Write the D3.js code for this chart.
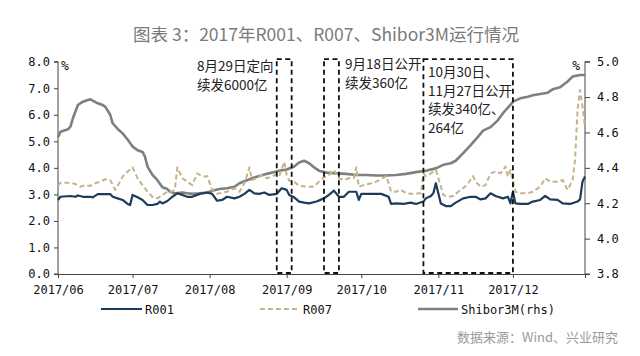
<!DOCTYPE html>
<html><head><meta charset="utf-8">
<script src="https://cdn.jsdelivr.net/npm/d3@7"></script>
<style>
html,body{margin:0;padding:0;background:#fff;}
svg{display:block;}
</style></head>
<body>
<svg id="chart" width="640" height="356"></svg>
<script>
// ---------- DATA ----------
const titleText = "图表 3：2017年R001、R007、Shibor3M运行情况";
const sourceText = "数据来源：Wind、兴业研究";
const monthTicks = ["2017/06/01","2017/07/01","2017/08/01","2017/09/01","2017/10/01","2017/11/01","2017/12/01"];
const leftTicks = [0,1,2,3,4,5,6,7,8];
const rightTicks = [3.8,4.0,4.2,4.4,4.6,4.8,5.0];
const seriesNames = ["R001","R007","Shibor3M(rhs)"];

const r001 = [
["06/01",2.79],["06/02",2.91],["06/06",2.94],["06/08",2.91],["06/09",2.96],["06/11",2.91],["06/14",2.91],["06/15",2.89],
["06/17",3.01],["06/19",3.01],["06/22",3.01],["06/23",2.91],["06/25",2.85],["06/27",2.79],["06/29",2.64],["06/30",2.60],
["07/01",2.98],["07/03",2.89],["07/05",2.79],["07/07",2.60],["07/09",2.60],["07/11",2.64],["07/12",2.73],["07/13",2.66],
["07/15",2.75],["07/17",2.91],["07/19",3.04],["07/21",2.98],["07/23",2.91],["07/25",2.91],["07/28",3.02],["07/31",3.07],
["08/02",3.02],["08/04",2.76],["08/06",2.79],["08/08",2.91],["08/11",2.85],["08/13",2.91],["08/15",3.02],["08/17",3.17],
["08/19",3.04],["08/21",3.02],["08/23",3.07],["08/25",2.98],["08/28",3.02],["08/30",3.23],["09/01",3.17],["09/02",2.98],
["09/04",2.89],["09/06",2.73],["09/08",2.69],["09/10",2.66],["09/13",2.73],["09/16",2.85],["09/18",2.98],["09/20",3.14],
["09/22",2.91],["09/24",2.91],["09/26",3.10],["09/28",3.10],["09/29",3.10],["09/30",2.79],["10/01",3.02],["10/05",3.02],
["10/09",3.02],["10/12",2.91],["10/13",2.64],["10/15",2.66],["10/18",2.64],["10/21",2.69],["10/23",2.64],["10/26",2.73],
["10/27",2.85],["10/29",2.94],["10/30",3.04],["10/31",3.42],["11/01",3.04],["11/02",2.66],["11/04",2.56],["11/06",2.56],
["11/08",2.69],["11/11",2.85],["11/14",2.91],["11/16",2.91],["11/18",2.81],["11/20",2.85],["11/22",3.04],["11/24",2.94],
["11/27",2.85],["11/29",2.91],["11/30",2.66],["12/01",3.10],["12/02",2.66],["12/04",2.64],["12/07",2.64],["12/09",2.73],
["12/12",2.79],["12/14",2.94],["12/16",2.81],["12/19",2.79],["12/21",2.66],["12/24",2.64],["12/27",2.73],["12/28",2.81],
["12/29",3.48],["12/30",3.67]
];

const r007 = [
["06/01",3.32],["06/02",3.44],["06/06",3.44],["06/08",3.39],["06/10",3.29],["06/12",3.35],["06/14",3.32],["06/16",3.42],
["06/18",3.48],["06/20",3.57],["06/22",3.54],["06/24",3.17],["06/25",3.32],["06/27",3.67],["06/29",3.86],["07/01",4.02],
["07/03",3.61],["07/05",3.35],["07/07",3.10],["07/09",2.91],["07/11",2.85],["07/13",2.98],["07/15",3.10],["07/16",3.07],
["07/18",3.17],["07/19",4.02],["07/21",3.61],["07/23",3.48],["07/25",3.35],["07/27",3.79],["07/28",3.73],["07/30",3.67],
["07/31",3.69],["08/02",3.17],["08/04",3.02],["08/06",3.07],["08/08",3.10],["08/11",3.23],["08/13",3.10],["08/15",3.42],
["08/17",4.02],["08/18",3.54],["08/20",3.61],["08/22",3.73],["08/24",3.61],["08/26",3.67],["08/28",3.77],["08/29",3.69],
["08/31",4.23],["09/01",3.73],["09/02",3.52],["09/04",3.48],["09/06",3.32],["09/09",3.29],["09/12",3.29],["09/14",3.48],
["09/16",3.64],["09/18",3.73],["09/20",3.92],["09/22",3.61],["09/24",3.54],["09/26",3.61],["09/28",3.61],["09/29",4.02],
["09/30",3.29],["10/02",3.35],["10/05",3.42],["10/07",3.48],["10/09",3.57],["10/11",3.69],["10/12",3.42],["10/13",3.10],
["10/15",3.10],["10/17",3.17],["10/19",3.04],["10/21",3.02],["10/25",3.04],["10/26",3.79],["10/27",3.69],["10/29",3.79],
["10/31",3.92],["11/01",3.61],["11/03",2.98],["11/05",2.91],["11/07",2.94],["11/09",3.10],["11/11",3.23],["11/13",3.42],
["11/15",3.69],["11/16",3.48],["11/18",3.29],["11/20",3.35],["11/22",3.79],["11/24",3.86],["11/26",3.79],["11/28",4.05],
["11/29",3.67],["11/30",3.92],["12/02",3.10],["12/04",3.04],["12/07",3.04],["12/09",3.10],["12/12",3.29],["12/14",3.61],
["12/16",3.48],["12/19",3.48],["12/21",3.54],["12/23",3.17],["12/25",3.54],["12/26",4.30],["12/27",6.18],["12/28",6.93],
["12/29",6.30],["12/30",5.55]
];

const shibor3m = [
["06/01",4.573],["06/02",4.604],["06/05",4.618],["06/06",4.633],["06/07",4.680],["06/09",4.755],["06/11",4.774],["06/13",4.784],
["06/14",4.787],["06/15",4.780],["06/17",4.765],["06/19",4.755],["06/20",4.746],["06/22",4.700],["06/23",4.652],["06/25",4.620],
["06/27",4.595],["06/29",4.560],["07/01",4.520],["07/03",4.500],["07/05",4.490],["07/06",4.463],["07/07",4.407],["07/09",4.360],
["07/11",4.330],["07/13",4.290],["07/15",4.280],["07/16",4.265],["07/18",4.256],["07/21",4.260],["07/23",4.256],["07/25",4.253],
["07/28",4.256],["07/31",4.260],["08/02",4.270],["08/05",4.280],["08/08",4.285],["08/11",4.293],["08/13",4.313],["08/16",4.330],
["08/19",4.346],["08/21",4.354],["08/24",4.366],["08/27",4.376],["08/29",4.384],["09/01",4.391],["09/04",4.408],["09/06",4.430],
["09/08",4.440],["09/10",4.426],["09/12",4.403],["09/14",4.384],["09/17",4.373],["09/21",4.369],["09/25",4.366],["09/29",4.360],
["10/03",4.360],["10/07",4.357],["10/11",4.357],["10/15",4.360],["10/19",4.366],["10/23",4.376],["10/27",4.384],["10/31",4.397],
["11/03",4.417],["11/06",4.426],["11/08",4.440],["11/11",4.483],["11/14",4.529],["11/17",4.577],["11/19",4.610],["11/22",4.630],
["11/25",4.670],["11/27",4.709],["11/30",4.756],["12/01",4.774],["12/04",4.793],["12/07",4.802],["12/09",4.810],["12/12",4.817],
["12/15",4.825],["12/17",4.844],["12/20",4.856],["12/23",4.888],["12/25",4.916],["12/28",4.925],["12/30",4.925]
];

// annotation windows (dates) and texts
const boxRanges = [["08/28","09/03"],["09/16","09/22"],["10/26","12/01"]];
const boxTexts = [
  ["8月29日定向","续发6000亿"],
  ["9月18日公开","续发360亿"],
  ["10月30日、","11月27日公开","续发340亿、","264亿"]
];

// ---------- CHART ----------
const parse = s => d3.timeParse("%Y/%m/%d")("2017/" + s);
const parseFull = d3.timeParse("%Y/%m/%d");
const svg = d3.select("#chart");
const W = 640, H = 356;
const m = {left:58, right:55, top:61.7, bottom:82};
const x = d3.scaleTime().domain([new Date(2017,5,1), new Date(2017,11,30)]).range([m.left, W - m.right]);
const yL = d3.scaleLinear().domain([0,8]).range([H - m.bottom, m.top]);
const yR = d3.scaleLinear().domain([3.8,5.0]).range([H - m.bottom, m.top]);

const monoFont = "'DejaVu Sans Mono','Liberation Mono',monospace";
const cjkFont = "'Noto Sans CJK SC','Noto Sans',sans-serif";

// title
svg.append("text").attr("x", 326).attr("y", 41).attr("text-anchor","middle")
  .attr("font-family", cjkFont).attr("font-size", 17.5).attr("fill","#7a7a7a").text(titleText);

// axes
const gx = svg.append("g").attr("transform", `translate(0,${H - m.bottom})`)
  .call(d3.axisBottom(x).tickValues(monthTicks.map(parseFull)).tickFormat(d3.timeFormat("%Y/%m")).tickSize(4).tickPadding(4));
const gl = svg.append("g").attr("transform", `translate(${m.left},0)`)
  .call(d3.axisLeft(yL).tickValues(leftTicks).tickFormat(d3.format(".1f")).tickSize(4).tickPadding(4));
const gr = svg.append("g").attr("transform", `translate(${W - m.right},0)`)
  .call(d3.axisRight(yR).tickValues(rightTicks).tickFormat(d3.format(".1f")).tickSize(5).tickPadding(7));
[gx, gl, gr].forEach(g => {
  g.selectAll("path.domain").attr("stroke","#444").attr("stroke-width",1);
  g.selectAll(".tick line").attr("stroke","#444");
  g.selectAll("text").attr("font-family", monoFont).attr("font-size", 12).attr("fill","#111");
});
gx.selectAll("text").attr("dy","1em");
gl.selectAll("path.domain").attr("d", `M-4,${yL(8)}H0V${yL(0)}H-4`);
gr.selectAll("path.domain").attr("d", `M5,${yR(5)}H0V${yR(3.8)}H5`);

// % labels
svg.append("text").attr("x", m.left + 3).attr("y", yL(8) + 8).attr("font-family", monoFont)
  .attr("font-size", 13).attr("fill","#111").text("%");
svg.append("text").attr("x", W - m.right - 5).attr("y", yR(5) + 8).attr("text-anchor","end").attr("font-family", monoFont)
  .attr("font-size", 13).attr("fill","#111").text("%");

// lines
const lineL = d3.line().x(d => x(parse(d[0]))).y(d => yL(d[1]));
const lineR = d3.line().x(d => x(parse(d[0]))).y(d => yR(d[1]));
const cR001 = "#1d3b5a", cR007 = "#c6b28c", cShibor = "#7f7f7f";

svg.append("path").datum(shibor3m).attr("d", lineR).attr("fill","none")
  .attr("stroke", cShibor).attr("stroke-width", 2.6).attr("stroke-linejoin","round");
svg.append("path").datum(r007).attr("d", lineL).attr("fill","none")
  .attr("stroke", cR007).attr("stroke-width", 2).attr("stroke-dasharray","5,3").attr("stroke-linejoin","round");
svg.append("path").datum(r001).attr("d", lineL).attr("fill","none")
  .attr("stroke", cR001).attr("stroke-width", 2.2).attr("stroke-linejoin","round");

// dashed boxes
boxRanges.forEach((r, i) => {
  const x0 = x(parse(r[0])), x1 = x(parse(r[1]));
  const top = yL(8) - 2.5, bot = yL(0) - 1;
  svg.append("rect").attr("x", x0).attr("y", top).attr("width", x1 - x0).attr("height", bot - top)
    .attr("fill","none").attr("stroke","#111").attr("stroke-width",1.8).attr("stroke-dasharray","5,3.5");
});

// annotation texts
const annPos = [
  {x: 197, y: 71, dy: 18.5},
  {x: 345, y: 69, dy: 18.5},
  {x: 428, y: 77, dy: 18.5}
];
boxTexts.forEach((lines, i) => {
  const t = svg.append("text").attr("font-family", cjkFont).attr("font-size", 13.5).attr("fill","#222");
  lines.forEach((s, j) => {
    t.append("tspan").attr("x", annPos[i].x).attr("y", annPos[i].y + j * annPos[i].dy).text(s);
  });
});

// legend
const legY = 309;
const leg = [
  {x0: 101, x1: 142, color: cR001, dash: null, w: 2.2},
  {x0: 260, x1: 300, color: cR007, dash: "5,3", w: 2},
  {x0: 418, x1: 458, color: cShibor, dash: null, w: 2.4}
];
leg.forEach((l, i) => {
  svg.append("line").attr("x1", l.x0).attr("x2", l.x1).attr("y1", legY).attr("y2", legY)
    .attr("stroke", l.color).attr("stroke-width", l.w).attr("stroke-dasharray", l.dash);
  svg.append("text").attr("x", l.x1 + 3).attr("y", legY + 4.5).attr("font-family", monoFont)
    .attr("font-size", 12).attr("fill","#111").text(seriesNames[i]);
});

// source
svg.append("text").attr("x", 618).attr("y", 342).attr("text-anchor","end")
  .attr("font-family", cjkFont).attr("font-size", 13).attr("fill","#9a9a9a").text(sourceText);
</script>
</body></html>
